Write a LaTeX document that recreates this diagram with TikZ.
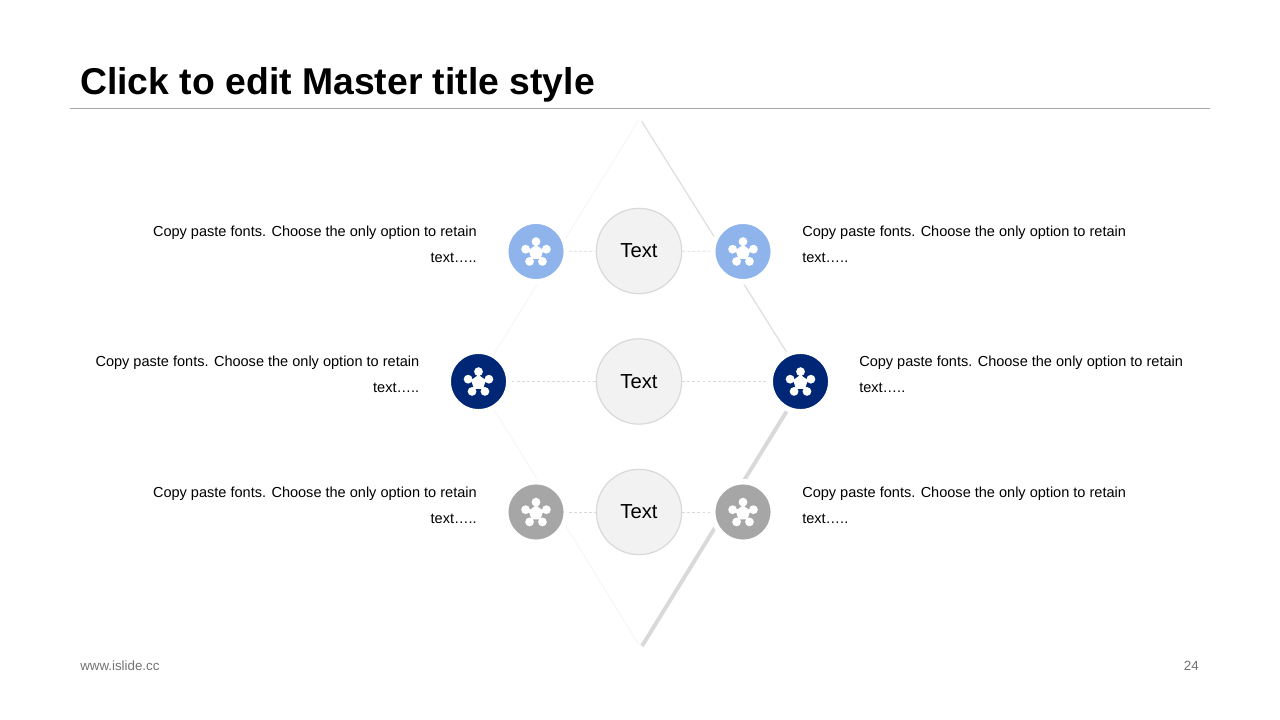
\documentclass[tikz,border=0pt]{standalone}
\usepackage{fontspec}
\setmainfont{Liberation Sans}
\usetikzlibrary{backgrounds}
\definecolor{lightblue}{HTML}{8FB4EC}
\definecolor{navy}{HTML}{002776}
\definecolor{midgray}{HTML}{A6A6A6}
\definecolor{rulegray}{HTML}{A6A6A6}
\tikzset{
  px/.style={x=0.75pt,y=-0.75pt},
  icondot/.style={circle,minimum size=45.4pt,inner sep=0pt,draw=white,line width=4.1pt},
  bigcircle/.style={circle,minimum size=64pt,inner sep=0pt,fill=black!5,draw=black!15,line width=0.9pt,font=\fontsize{15.2}{18}\selectfont},
  bodyleft/.style={anchor=east,align=right,inner sep=0pt,font=\fontsize{10.9}{19.5}\selectfont},
  bodyright/.style={anchor=west,align=left,inner sep=0pt,font=\fontsize{10.9}{19.5}\selectfont},
  dashlink/.style={draw=black!15,line width=0.5pt,dash pattern=on 2.2pt off 1.6pt},
  edgefaint/.style={draw=black!4,line width=0.6pt},
  edgemid/.style={draw=black!13,line width=0.9pt},
  edgethick/.style={draw=black!15,line width=2.9pt},
  pics/hubicon/.style={code={
    \begin{scope}[yshift=-0.8pt]
    \foreach \a in {90,162,234,306,18}{
      \fill[white] (\a:8.2pt) circle[radius=3.3pt];
      \draw[white,line width=2pt] (0,0) -- (\a:8.2pt);
    }
    \fill[white] (90:5.8pt) -- (162:5.8pt) -- (234:5.8pt) -- (306:5.8pt) -- (18:5.8pt) -- cycle;
    \end{scope}
  }}
}
\begin{document}
\begin{tikzpicture}[px]
\useasboundingbox (0,0) rectangle (1280,720);

\node[anchor=west,inner sep=0pt,font=\bfseries\fontsize{28}{32}\selectfont] (title) at (80,85) {Click to edit Master title style};
\coordinate (ruleL) at (70,108.5);
\coordinate (ruleR) at (1210,108.5);
\draw[rulegray,line width=0.6pt] (ruleL) -- (ruleR);

\coordinate (topR) at (641.5,121);
\coordinate (topL) at (638.5,120.5);
\coordinate (rightV) at (805,381.5);
\coordinate (leftV) at (477,381.5);
\coordinate (botR) at (642,646);
\coordinate (botL) at (639,645);

\node[bigcircle] (c1) at (639,251) {\raisebox{-0.75pt}{Text}};
\node[bigcircle] (c2) at (639,381.5) {\raisebox{-0.4pt}{Text}};
\node[bigcircle] (c3) at (639,512) {\raisebox{-0.4pt}{Text}};

\node[icondot,fill=lightblue] (il1) at (536,251.5) {};
\node[icondot,fill=lightblue] (ir1) at (743,251.5) {};
\node[icondot,fill=navy] (il2) at (478.5,381.5) {};
\node[icondot,fill=navy] (ir2) at (800.5,381.5) {};
\node[icondot,fill=midgray] (il3) at (536,512) {};
\node[icondot,fill=midgray] (ir3) at (743,512) {};

\foreach \n in {il1,ir1,il2,ir2,il3,ir3} \pic at (\n) {hubicon};

\begin{scope}[on background layer]
  \fill[white] (0,0) rectangle (1280,720);
  \draw[edgefaint] (topL) -- (leftV);
  \draw[edgefaint] (leftV) -- (botL);
  \draw[edgemid] (topR) -- (rightV);
  \draw[edgethick] (rightV) -- (botR);
  \draw[dashlink] (il1) -- (c1);
  \draw[dashlink] (c1) -- (ir1);
  \draw[dashlink] (il2) -- (c2);
  \draw[dashlink] (c2) -- (ir2);
  \draw[dashlink] (il3) -- (c3);
  \draw[dashlink] (c3) -- (ir3);
\end{scope}

\node[bodyleft] (tl1) at (477,244) {Copy paste fonts. Choose the only option to retain\\text…..};
\node[bodyright] (tr1) at (802,244) {Copy paste fonts. Choose the only option to retain\\text…..};
\node[bodyleft] (tl2) at (419.5,374) {Copy paste fonts. Choose the only option to retain\\text…..};
\node[bodyright] (tr2) at (859,374) {Copy paste fonts. Choose the only option to retain\\text…..};
\node[bodyleft] (tl3) at (477,505) {Copy paste fonts. Choose the only option to retain\\text…..};
\node[bodyright] (tr3) at (802,505) {Copy paste fonts. Choose the only option to retain\\text…..};

\node[anchor=west,inner sep=0pt,text=black!55,font=\fontsize{10}{12}\selectfont] (foot) at (80,666) {www.islide.cc};
\node[anchor=east,inner sep=0pt,text=black!55,font=\fontsize{10}{12}\selectfont] (page) at (1199,666) {24};
\end{tikzpicture}
\end{document}
